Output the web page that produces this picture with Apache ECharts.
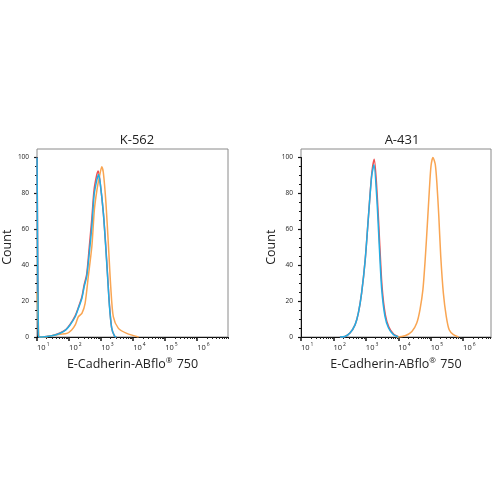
<!DOCTYPE html>
<html><head><meta charset="utf-8">
<script src="https://cdn.jsdelivr.net/npm/echarts@6/dist/echarts.min.js"></script>
<style>html,body{margin:0;padding:0;background:#fff}#c{width:500px;height:500px}</style>
</head><body><div id="c"></div>
<script>
// ---- data (x in log10 units of fluorescence, y = count %) ----
const panelTitles = ['K-562', 'A-431'];
const xAxisName = 'E-Cadherin-ABflo{r|®} 750';
const yAxisName = 'Count';
const yTicks = [0, 20, 40, 60, 80, 100];
const decades = [1, 2, 3, 4, 5, 6];
const minorMultipliers = [2, 3, 4, 5, 6, 7, 8, 9];

const k562Red = [[1.00,100],[1.04,2],[1.07,0],[1.3,0.3],[1.5,0.9],[1.72,2.3],[1.9,4.2],[2.03,7],[2.19,11.8],[2.29,16.5],[2.40,22.5],[2.47,29],[2.55,35],[2.63,50],[2.71,66],[2.78,82],[2.86,90],[2.91,92.5],[2.97,86],[3.07,69],[3.14,52],[3.20,35],[3.26,18],[3.33,5],[3.42,0.5],[3.48,0]];
const k562Orange = [[1.00,25],[1.04,8],[1.08,0],[1.3,0.2],[1.5,0.8],[1.72,1.5],[1.93,2],[2.08,3.9],[2.2,7],[2.29,11.3],[2.40,13.2],[2.5,18.8],[2.6,33.7],[2.71,50.4],[2.79,71],[2.87,82],[2.95,89.6],[3.02,94.8],[3.07,91.4],[3.15,74.7],[3.23,50.4],[3.30,28],[3.38,11.3],[3.54,4.8],[3.80,2],[4.17,0]];
const k562Blue = [[1.00,100],[1.04,2],[1.07,0],[1.3,0.3],[1.5,0.8],[1.72,2.1],[1.9,4],[2.03,6.7],[2.19,11.3],[2.29,16],[2.40,21.6],[2.47,28],[2.55,33.7],[2.63,46.7],[2.71,61.6],[2.78,79],[2.86,87],[2.92,90.5],[2.97,86],[3.07,69],[3.14,51],[3.20,34],[3.26,17],[3.33,5],[3.42,0.5],[3.48,0]];

const a431Red = [[2.2,0],[2.36,0.3],[2.51,2.2],[2.67,6.9],[2.77,13.4],[2.87,24.6],[2.98,43],[3.08,67],[3.18,90.5],[3.26,99],[3.35,79],[3.43,51],[3.50,28],[3.60,12.5],[3.71,5.5],[3.86,1.5],[4.02,0]];
const a431Orange = [[3.95,0],[4.21,0.7],[4.42,3.1],[4.57,7.8],[4.67,15.3],[4.76,26.4],[4.83,43],[4.90,63.7],[4.96,82.3],[5.01,95.3],[5.07,100],[5.14,96.3],[5.19,86],[5.25,67.4],[5.31,45],[5.39,24.6],[5.48,11.5],[5.57,4],[5.70,1.3],[5.86,0]];
const a431Blue = [[2.2,0],[2.36,0.3],[2.51,2.2],[2.67,6.9],[2.77,13.4],[2.87,24.6],[2.98,43],[3.08,67],[3.18,89.7],[3.25,96],[3.34,76.7],[3.42,48.8],[3.49,26.4],[3.59,11.5],[3.70,5],[3.85,1.3],[4.0,0]];

const colors = {red: '#ee5253', orange: '#f9a552', blue: '#22aee4'};

// ---- build ----
const FONT = 'Open Sans';
const minorValues = [];
decades.forEach(d => minorMultipliers.forEach(m => minorValues.push(d + Math.log10(m))));

const panels = [
  {left: 37, width: 191, xMax: 6.96, series: [k562Red, k562Orange, k562Blue], titleX: 132},
  {left: 301, width: 190, xMax: 6.86, series: [a431Red, a431Orange, a431Blue], titleX: 397}
];

const grid = [], xAxis = [], yAxis = [], series = [], title = [];
panels.forEach((p, i) => {
  const fIdx = i * 2, dIdx = i * 2 + 1;
  const mMinor = minorValues.filter(v => v <= p.xMax);
  grid.push({left: p.left, top: 149, width: p.width, height: 188, show: true, borderColor: '#8a8a8a', borderWidth: 1, backgroundColor: 'transparent'});
  grid.push({left: p.left, top: 157.5, width: p.width, height: 179.5});
  // frame axes (carry minor log ticks)
  xAxis.push({gridIndex: fIdx, type: 'value', min: 1, max: p.xMax,
    axisLine: {show: false}, splitLine: {show: false}, axisLabel: {show: false},
    axisTick: {show: true, customValues: mMinor, length: 2, lineStyle: {color: '#222', width: 1}}});
  yAxis.push({gridIndex: fIdx, type: 'value', min: 0, max: 1, show: false});
  // data axes
  xAxis.push({gridIndex: dIdx, type: 'value', min: 1, max: p.xMax, interval: 1,
    axisLine: {show: true, lineStyle: {color: '#111', width: 1}},
    axisTick: {show: true, length: 4, lineStyle: {color: '#111', width: 1.5}},
    splitLine: {show: false},
    axisLabel: {show: true, showMaxLabel: false, align: 'left', margin: 5,
      formatter: v => '{a|10}{b|' + Math.round(v) + '}',
      rich: {a: {fontSize: 7.5, fontFamily: FONT, color: '#222', lineHeight: 10, verticalAlign: 'bottom'},
             b: {fontSize: 5, fontFamily: FONT, color: '#222', verticalAlign: 'top', padding: [0, 0, 0, 1]}}},
    name: xAxisName, nameLocation: 'middle', nameGap: 20,
    nameTextStyle: {fontSize: 12.5, fontFamily: FONT, color: '#222',
      rich: {r: {fontSize: 8, fontFamily: FONT, color: '#222', verticalAlign: 'top', padding: [0, 1, 6, 0]}}}
  });
  yAxis.push({gridIndex: dIdx, type: 'value', min: 0, max: 100, interval: 20,
    axisLine: {show: true, lineStyle: {color: '#111', width: 1}},
    axisTick: {show: true, length: 3, lineStyle: {color: '#111', width: 1.2}},
    minorTick: {show: true, splitNumber: 4, length: 2, lineStyle: {color: '#111', width: 1}},
    splitLine: {show: false},
    axisLabel: {fontSize: 6.5, fontFamily: FONT, color: '#222', margin: 8, formatter: v => yTicks.includes(v) ? String(v) : ''},
    name: yAxisName, nameLocation: 'middle', nameGap: 21,
    nameTextStyle: {fontSize: 12.5, fontFamily: FONT, color: '#222'}
  });
  title.push({text: panelTitles[i], left: p.titleX, top: 129, textAlign: 'center',
    textStyle: {fontSize: 13, fontWeight: 'normal', fontFamily: FONT, color: '#222'}});
  const cols = [colors.red, colors.orange, colors.blue];
  p.series.forEach((d, k) => series.push({type: 'line', xAxisIndex: dIdx, yAxisIndex: dIdx, data: d,
    showSymbol: false, symbol: 'none', smooth: 0.25, clip: false, z: 2 + k,
    lineStyle: {color: cols[k], width: 1.5}}));
});

const chart = echarts.init(document.getElementById('c'), null, {renderer: 'canvas'});
chart.setOption({animation: false, backgroundColor: '#fff', title, grid, xAxis, yAxis, series});
</script></body></html>
